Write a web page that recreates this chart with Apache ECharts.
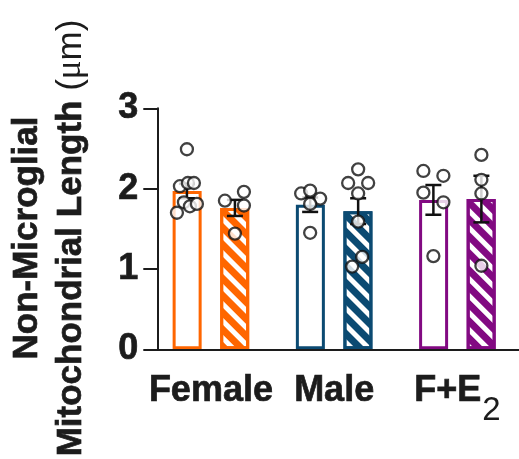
<!DOCTYPE html>
<html><head><meta charset="utf-8">
<script src="https://cdn.jsdelivr.net/npm/echarts@6/dist/echarts.min.js"></script>
<style>html,body{margin:0;padding:0;background:#fff}#c{width:519px;height:459px}</style>
</head><body><div id="c"></div>
<script>
// ---- data ----
const categories = ['Female', 'Male', 'F+E2'];
const yTicks = [0, 1, 2, 3];
const meanOpen = [1.97, 1.80, 1.86];
const meanHatched = [1.76, 1.72, 1.87];
const semOpen = [0.09, 0.09, 0.185];
const semHatched = [0.10, 0.16, 0.29];
const dotsFemaleOpen = [2.49, 2.03, 2.07, 2.07, 1.83, 1.78, 1.81, 1.70];
const dotsFemaleHatched = [1.85, 1.96, 1.79, 1.44];
const dotsMaleOpen = [1.94, 1.975, 1.876, 1.81, 1.45];
const dotsMaleHatched = [2.24, 2.07, 2.07, 1.94, 1.59, 1.15, 1.03];
const dotsFE2Open = [2.22, 2.16, 1.95, 1.83, 1.16];
const dotsFE2Hatched = [2.42, 2.11, 1.94, 1.04];

// ---- layout / style ----
const groupColors = ['#FF6600', '#0B4A72', '#820A82'];
const BAR_OFFSET = 24;
const jitterFemaleOpen = [0, -7, 1, 7, -3, 3, 10, -10];
const jitterFemaleHatched = [-10, 9, 9, 0];
const jitterMaleOpen = [-9, 0, 10, 0, 0];
const jitterMaleHatched = [0, -10, 10, 0, 0, 4, -6];
const jitterFE2Open = [-10, 10, -10, 10, 0];
const jitterFE2Hatched = [0, 0, 0, 0];
const FONT = "'Liberation Sans', Arial, Helvetica, sans-serif";
const INK = '#1c1c1c';
const BOLDEN = 0.7;

const dotGroups = [
  [0, -1, dotsFemaleOpen, jitterFemaleOpen],
  [0, 1, dotsFemaleHatched, jitterFemaleHatched],
  [1, -1, dotsMaleOpen, jitterMaleOpen],
  [1, 1, dotsMaleHatched, jitterMaleHatched],
  [2, -1, dotsFE2Open, jitterFE2Open],
  [2, 1, dotsFE2Hatched, jitterFE2Hatched]
];
const dotData = [];
dotGroups.forEach(([cat, side, vals, jit]) => {
  vals.forEach((v, k) => dotData.push({ value: [cat, v], symbolOffset: [side * BAR_OFFSET + jit[k], 0] }));
});
const errData = [];
meanOpen.forEach((m, i) => errData.push([i, m, semOpen[i], -1]));
meanHatched.forEach((m, i) => errData.push([i, m, semHatched[i], 1]));

const chart = echarts.init(document.getElementById('c'), null, { renderer: 'canvas' });
chart.setOption({
  animation: false,
  grid: { left: 149.3, top: 108.3, width: 378, height: 241, containLabel: false },
  xAxis: {
    type: 'category', data: categories, z: 5,
    axisLine: { lineStyle: { color: INK, width: 2 } },
    axisTick: { alignWithLabel: true, length: 15, lineStyle: { color: INK, width: 2 } },
    axisLabel: {
      margin: 24, interval: 0,
      formatter: v => /\d$/.test(v) ? '{b|' + v.slice(0, -1) + '}{s|' + v.slice(-1) + '}' : '{b|' + v + '}',
      rich: {
        b: { fontFamily: FONT, fontWeight: 'bold', fontSize: 36, lineHeight: 36, color: INK, verticalAlign: 'top', textBorderColor: INK, textBorderWidth: BOLDEN },
        s: { fontFamily: FONT, fontWeight: 'normal', fontSize: 33, lineHeight: 36, color: INK, verticalAlign: 'top', padding: [21, 0, 0, 1] }
      }
    }
  },
  yAxis: {
    type: 'value', min: yTicks[0], max: yTicks[yTicks.length - 1], interval: 1, offset: -8, z: 5,
    splitLine: { show: false },
    axisLine: { show: true, lineStyle: { color: INK, width: 2 } },
    axisTick: { show: true, length: 14, lineStyle: { color: INK, width: 2 } },
    axisLabel: { margin: 19, fontFamily: FONT, fontWeight: 'bold', fontSize: 36, color: INK, padding: [8, 0, 0, 0], textBorderColor: INK, textBorderWidth: BOLDEN }
  },
  graphic: [{
    type: 'text', x: 49, y: 238, rotation: Math.PI / 2,
    style: {
      text: '{b|Non-Microglial}\n{b|Mitochondrial Length }{n|(}{u|μ}{n|m)}',
      align: 'center', verticalAlign: 'middle',
      rich: {
        b: { fontFamily: FONT, fontWeight: 'bold', fontSize: 35, lineHeight: 44, fill: INK, stroke: INK, lineWidth: BOLDEN },
        n: { fontFamily: FONT, fontWeight: 'normal', fontSize: 35, lineHeight: 44, fill: INK },
        u: { fontFamily: "'Liberation Serif', 'DejaVu Serif', serif", fontWeight: 'normal', fontSize: 35, lineHeight: 44, fill: INK }
      }
    }
  }],
  series: [
    {
      type: 'bar', barWidth: 29, barGap: '64%', z: 2,
      itemStyle: { color: '#fff', borderWidth: 3 },
      data: meanOpen.map((v, i) => ({ value: v, itemStyle: { borderColor: groupColors[i] } }))
    },
    {
      type: 'bar', barWidth: 29, barGap: '64%', z: 2,
      itemStyle: { color: '#fff', borderWidth: 3 },
      data: meanHatched.map((v, i) => ({
        value: v,
        itemStyle: {
          borderColor: groupColors[i],
          decal: { symbol: 'rect', symbolSize: 1, dashArrayX: [1, 0], dashArrayY: [6.5, 5], rotation: Math.PI / 4, color: groupColors[i] }
        }
      }))
    },
    {
      type: 'custom', z: 3, data: errData,
      renderItem: (params, api) => {
        const cat = api.value(0), m = api.value(1), s = api.value(2), side = api.value(3);
        const top = api.coord([cat, m + s]);
        const bot = api.coord([cat, m - s]);
        const x = top[0] + side * BAR_OFFSET;
        const st = { stroke: '#111', lineWidth: 2.5 };
        const hw = 8;
        return {
          type: 'group', children: [
            { type: 'line', shape: { x1: x, y1: top[1], x2: x, y2: bot[1] }, style: st },
            { type: 'line', shape: { x1: x - hw, y1: top[1], x2: x + hw, y2: top[1] }, style: st },
            { type: 'line', shape: { x1: x - hw, y1: bot[1], x2: x + hw, y2: bot[1] }, style: st }
          ]
        };
      }
    },
    {
      type: 'scatter', z: 4, symbol: 'circle', symbolSize: 12,
      itemStyle: { color: '#fff', borderColor: '#111', borderWidth: 2.3 },
      data: dotData
    }
  ]
});
</script></body></html>
